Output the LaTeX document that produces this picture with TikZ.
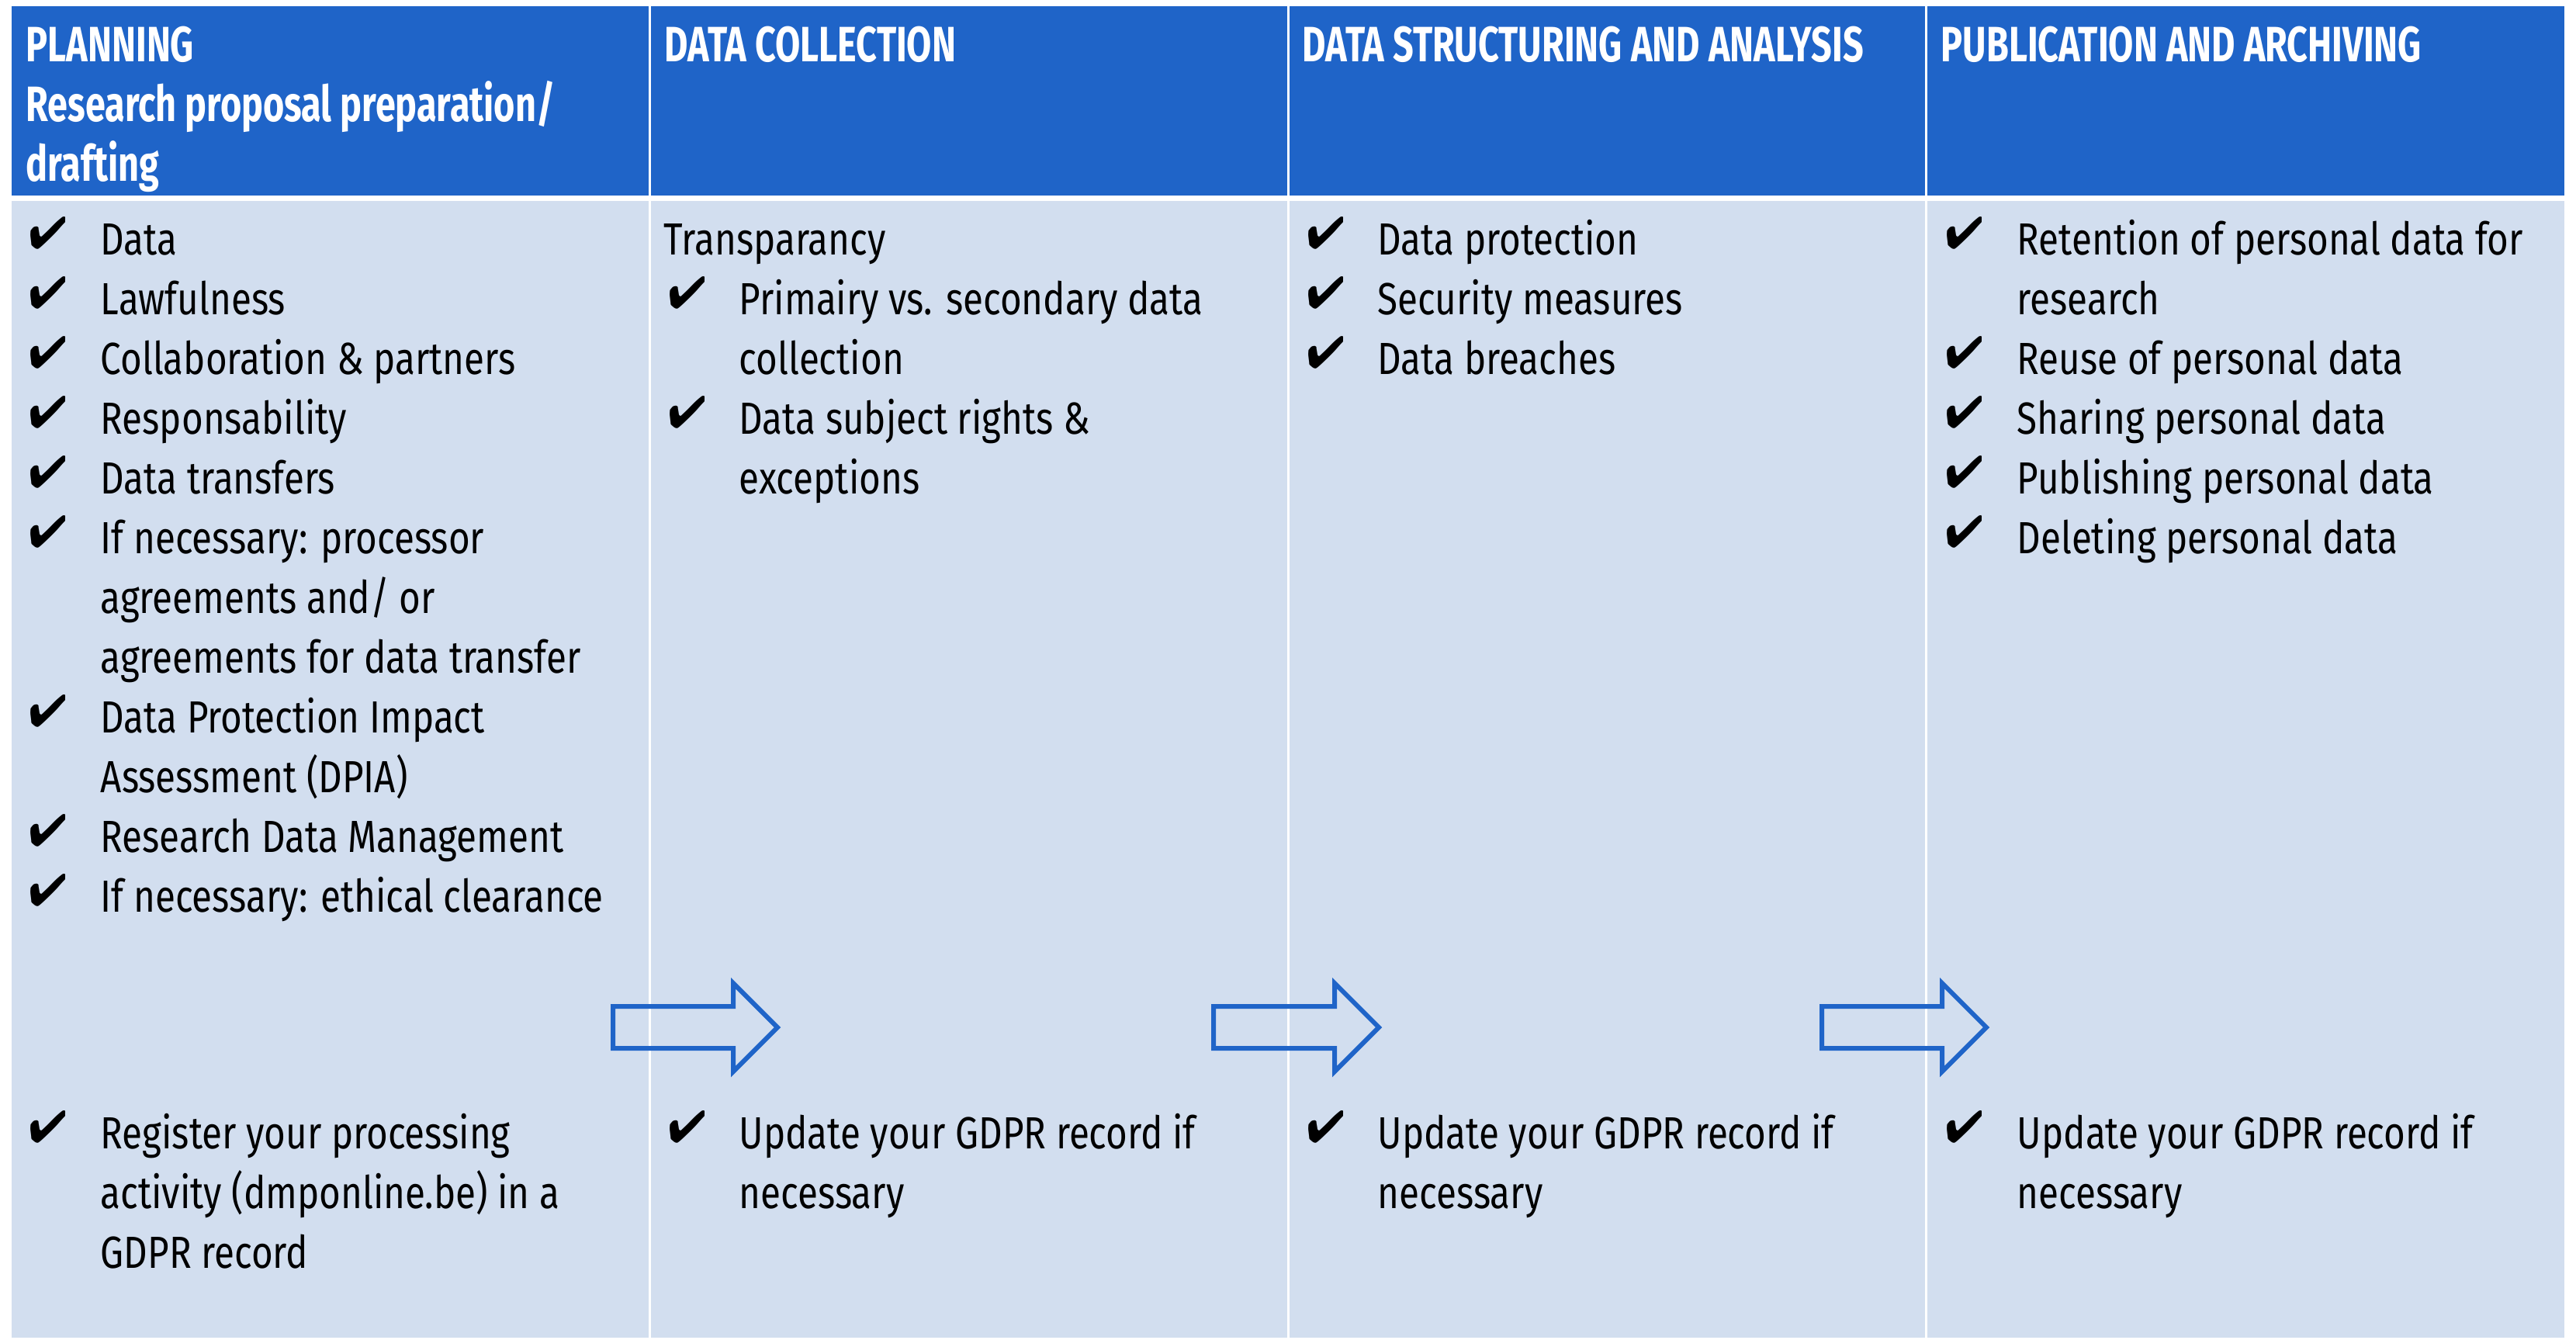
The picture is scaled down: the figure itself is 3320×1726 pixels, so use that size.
\documentclass[tikz,border=0pt]{standalone}
\usepackage{pifont}
\usepackage{fontspec}
\setmainfont{Fira Sans}[FakeStretch=0.82]
\newfontfamily\hdrfont{Fira Sans}[FakeStretch=0.73]
\definecolor{hdr}{RGB}{31,100,200}
\definecolor{bodybg}{RGB}{210,222,239}
\tikzset{
  txt/.style={anchor=base west,inner sep=0pt,font=\fontsize{14.5}{17}\selectfont,text=black},
  htxt/.style={anchor=base west,inner sep=0pt,font=\hdrfont\fontsize{16}{19}\selectfont\bfseries,text=white},
  chk/.style={anchor=base west,inner sep=0pt,font=\fontsize{14.5}{15}\selectfont},
  blockarrow/.style={draw=hdr,line width=1.5pt,line join=miter},
}
\newcommand\ck{\ding{52}}
\begin{document}
\begin{tikzpicture}[x=0.25pt,y=-0.25pt]
\useasboundingbox (0,0) rectangle (3320,1726);
% cells
\fill[hdr] (15,8) rectangle (836,252);
\fill[hdr] (839,8) rectangle (1658.5,252);
\fill[hdr] (1661.5,8) rectangle (2481,252);
\fill[hdr] (2484,8) rectangle (3305,252);
\fill[bodybg] (15,259) rectangle (836,1724);
\fill[bodybg] (839,259) rectangle (1658.5,1724);
\fill[bodybg] (1661.5,259) rectangle (2481,1724);
\fill[bodybg] (2484,259) rectangle (3305,1724);

% headers
\node[htxt] (h1a) at (33,79) {PLANNING};
\node[htxt] (h1b) at (33,156) {Research proposal preparation/};
\node[htxt] (h1c) at (33,233) {drafting};
\node[htxt] (h2) at (856,79) {DATA COLLECTION};
\node[htxt] (h3) at (1678,79) {DATA STRUCTURING AND ANALYSIS};
\node[htxt] (h4) at (2501,79) {PUBLICATION AND ARCHIVING};

% column 1
\node[chk] (k11) at (37,320) {\ck};
\node[txt] (t11) at (129,328) {Data};
\node[chk] (k12) at (37,397) {\ck};
\node[txt] (t12) at (129,405) {Lawfulness};
\node[chk] (k13) at (37,474) {\ck};
\node[txt] (t13) at (129,482) {Collaboration \& partners};
\node[chk] (k14) at (37,551) {\ck};
\node[txt] (t14) at (129,559) {Responsability};
\node[chk] (k15) at (37,628) {\ck};
\node[txt] (t15) at (129,636) {Data transfers};
\node[chk] (k16) at (37,705) {\ck};
\node[txt] (t16a) at (129,713) {If necessary: processor};
\node[txt] (t16b) at (129,790) {agreements and/ or};
\node[txt] (t16c) at (129,867) {agreements for data transfer};
\node[chk] (k17) at (37,936) {\ck};
\node[txt] (t17a) at (129,944) {Data Protection Impact};
\node[txt] (t17b) at (129,1021) {Assessment (DPIA)};
\node[chk] (k18) at (37,1090) {\ck};
\node[txt] (t18) at (129,1098) {Research Data Management};
\node[chk] (k19) at (37,1167) {\ck};
\node[txt] (t19) at (129,1175) {If necessary: ethical clearance};
\node[chk] (k1b) at (37,1472) {\ck};
\node[txt] (t1ba) at (129,1480) {Register your processing};
\node[txt] (t1bb) at (129,1557) {activity (dmponline.be) in a};
\node[txt] (t1bc) at (129,1634) {GDPR record};

% column 2
\node[txt] (t20) at (855,328) {Transparancy};
\node[chk] (k21) at (861,397) {\ck};
\node[txt] (t21a) at (952,405) {Primairy vs. secondary data};
\node[txt] (t21b) at (952,482) {collection};
\node[chk] (k22) at (861,551) {\ck};
\node[txt] (t22a) at (952,559) {Data subject rights \&};
\node[txt] (t22b) at (952,636) {exceptions};
\node[chk] (k2b) at (861,1472) {\ck};
\node[txt] (t2ba) at (952,1480) {Update your GDPR record if};
\node[txt] (t2bb) at (952,1557) {necessary};

% column 3
\node[chk] (k31) at (1684,320) {\ck};
\node[txt] (t31) at (1775,328) {Data protection};
\node[chk] (k32) at (1684,397) {\ck};
\node[txt] (t32) at (1775,405) {Security measures};
\node[chk] (k33) at (1684,474) {\ck};
\node[txt] (t33) at (1775,482) {Data breaches};
\node[chk] (k3b) at (1684,1472) {\ck};
\node[txt] (t3ba) at (1775,1480) {Update your GDPR record if};
\node[txt] (t3bb) at (1775,1557) {necessary};

% column 4
\node[chk] (k41) at (2507,320) {\ck};
\node[txt] (t41a) at (2599,328) {Retention of personal data for};
\node[txt] (t41b) at (2599,405) {research};
\node[chk] (k42) at (2507,474) {\ck};
\node[txt] (t42) at (2599,482) {Reuse of personal data};
\node[chk] (k43) at (2507,551) {\ck};
\node[txt] (t43) at (2599,559) {Sharing personal data};
\node[chk] (k44) at (2507,628) {\ck};
\node[txt] (t44) at (2599,636) {Publishing personal data};
\node[chk] (k45) at (2507,705) {\ck};
\node[txt] (t45) at (2599,713) {Deleting personal data};
\node[chk] (k4b) at (2507,1472) {\ck};
\node[txt] (t4ba) at (2599,1480) {Update your GDPR record if};
\node[txt] (t4bb) at (2599,1557) {necessary};

% arrows
\foreach \xa/\xb/\xt in {790/945/1002, 1564/1720/1777, 2348/2503/2560}{
  \draw[blockarrow] (\xa,1297) -- (\xb,1297) -- (\xb,1267) -- (\xt,1324) -- (\xb,1381) -- (\xb,1351) -- (\xa,1351) -- cycle;
}
\end{tikzpicture}
\end{document}
